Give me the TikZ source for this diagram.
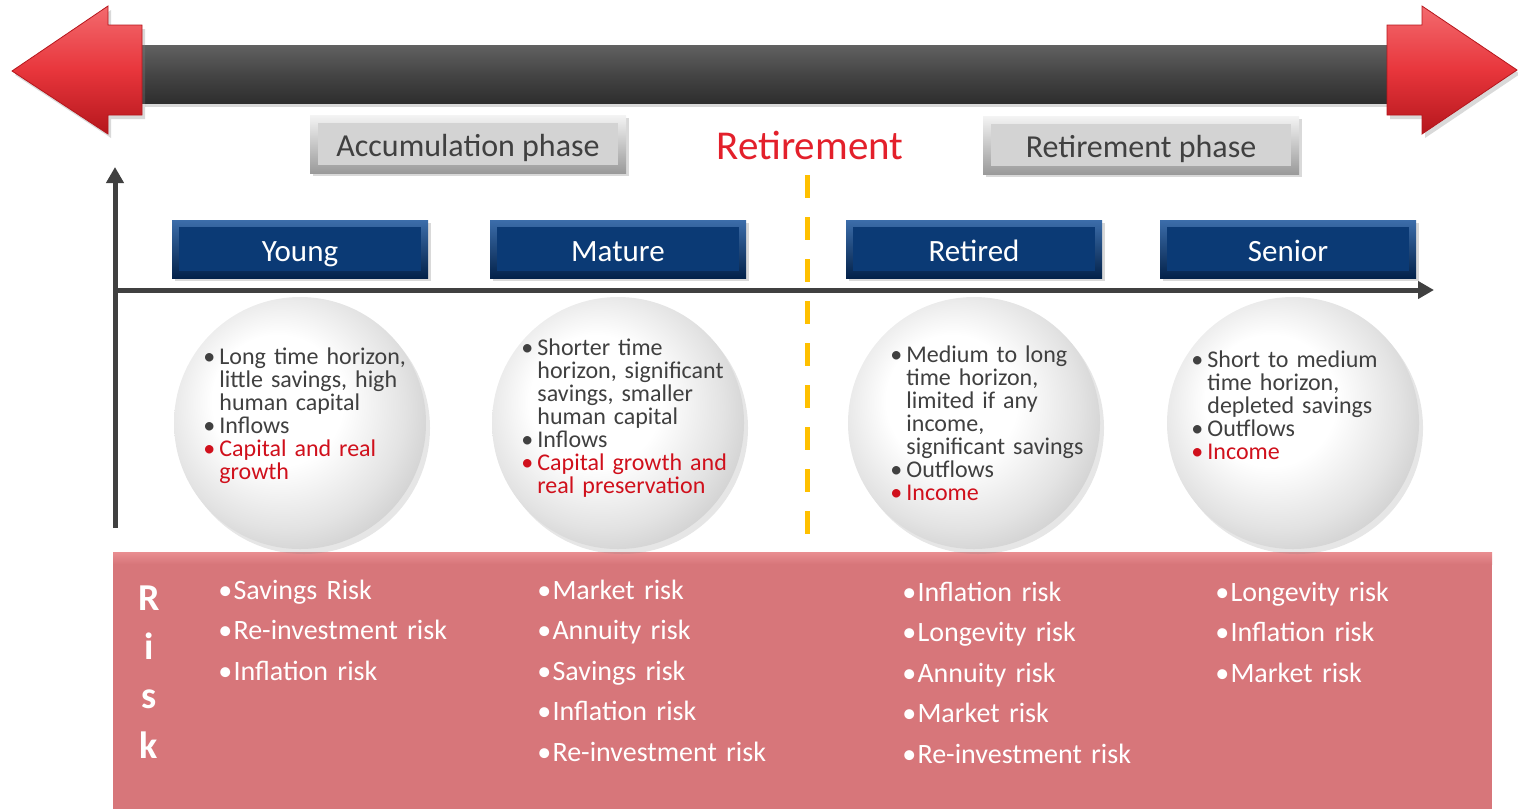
\documentclass[tikz,border=0pt]{standalone}
\usepackage{fontspec}
\setmainfont{Carlito}
\usepackage{tikz}
\usetikzlibrary{positioning,arrows.meta,shadows}

\definecolor{arrowred}{HTML}{E8363C}
\definecolor{arrowredhi}{HTML}{F36A6E}
\definecolor{arrowredlo}{HTML}{B5161C}
\definecolor{bardark}{HTML}{454545}
\definecolor{navy}{HTML}{0B3A75}
\definecolor{navyhi}{HTML}{3C6DAA}
\definecolor{navylo}{HTML}{03224A}
\definecolor{boxgray}{HTML}{D3D3D3}
\definecolor{boxgrayhi}{HTML}{F4F4F4}
\definecolor{boxgraylo}{HTML}{9A9A9A}
\definecolor{txtgray}{HTML}{404040}
\definecolor{retred}{HTML}{E3202B}
\definecolor{bulletred}{HTML}{D0101C}
\definecolor{dashyellow}{HTML}{FFC000}
\definecolor{riskpink}{HTML}{D7767A}
\definecolor{riskpinkhi}{HTML}{E98E91}
\definecolor{axisgray}{HTML}{404040}

\pgfdeclareradialshading{pearl}{\pgfpoint{-6bp}{6bp}}{%
  color(0bp)=(white); color(13bp)=(white); color(24bp)=(black!11);
  color(34bp)=(black!24); color(50bp)=(black!24)}

\newcommand{\ballfont}{\fontsize{12}{11.5}\selectfont\lineskiplimit=-\maxdimen}
\newcommand{\riskfont}{\fontsize{14}{20.25}\selectfont}
\newcommand{\blt}[1]{\noindent\llap{\textbullet\hspace{2pt}}#1\par}
\newcommand{\rblt}[1]{\noindent{\color{bulletred}\llap{\textbullet\hspace{2pt}}#1}\par}
\newcommand{\rskitem}{\textbullet\hspace{0.6pt}}

\begin{document}
\begin{tikzpicture}
    [x=0.5pt, y=-0.5pt, >={Triangle[length=8pt,width=8.5pt]},
     node distance=87pt, on grid,
     phasebox/.style={rectangle, minimum width=158pt, minimum height=29pt,
        text=txtgray, font=\fontsize{16}{19}\selectfont, text height=12.5pt, text depth=0pt,
        top color=boxgrayhi, bottom color=boxgraylo,
        drop shadow={opacity=0.3, shadow xshift=1.5pt, shadow yshift=-1.5pt},
        path picture={\fill[boxgray] ([shift={(4pt,4pt)}]path picture bounding box.south west)
            rectangle ([shift={(-4pt,-4pt)}]path picture bounding box.north east);}},
     agebox/.style={rectangle, minimum width=128pt, minimum height=29pt,
        text=white, font=\fontsize{15.5}{18}\selectfont, text height=12.4pt, text depth=0pt,
        top color=navyhi, bottom color=navylo,
        drop shadow={opacity=0.3, shadow xshift=1.5pt, shadow yshift=-1.5pt},
        path picture={\fill[navy] ([shift={(3.5pt,3.5pt)}]path picture bounding box.south west)
            rectangle ([shift={(-3.5pt,-3.5pt)}]path picture bounding box.north east);}},
     ball/.style={circle, minimum size=126pt, inner sep=0pt, shade, shading=pearl,
        drop shadow={opacity=0.2, shadow xshift=2pt, shadow yshift=-2.5pt}},
     balltext/.style={anchor=base west, text width=110pt, align=left, inner sep=0pt,
        text=txtgray, font=\ballfont},
     risklist/.style={anchor=base west, text width=130pt, align=left, inner sep=0pt,
        text=white, font=\riskfont},
     axis/.style={color=axisgray, line width=2.5pt},
     retline/.style={color=dashyellow, line width=2.5pt, dash pattern=on 11.5pt off 9.5pt}]

\useasboundingbox (0,0) rectangle (1518,809);

% risk band
\fill[riskpink] (113,552) rectangle (1492,809);
\shade[top color=riskpinkhi, bottom color=riskpink] (113,552) rectangle (1492,564);

% timeline arrow
\shade[top color=black!62, bottom color=black!82, middle color=bardark,
    drop shadow={opacity=0.3, shadow xshift=1.5pt, shadow yshift=-2pt}]
    (142,45) rectangle (1387,103);
\shade[top color=arrowredhi, bottom color=arrowredlo, middle color=arrowred,
    draw=arrowredlo, line width=0.4pt,
    drop shadow={opacity=0.3, shadow xshift=1.5pt, shadow yshift=-2pt}]
    (12,71) -- (108,6) -- (108,25) -- (142,25) -- (142,115) -- (108,115) -- (108,134) -- cycle;
\shade[top color=arrowredhi, bottom color=arrowredlo, middle color=arrowred,
    draw=arrowredlo, line width=0.4pt,
    drop shadow={opacity=0.3, shadow xshift=1.5pt, shadow yshift=-2pt}]
    (1517,70) -- (1422,6) -- (1422,25) -- (1387,25) -- (1387,115) -- (1422,115) -- (1422,134) -- cycle;

% phases
\node[phasebox](accum) at (468,144){Accumulation phase};
\node[phasebox](retphase) at (1141,145){Retirement phase};
\node[font=\fontsize{20.5}{24}\selectfont, text=retred](ret) at (810,145){Retirement};

% axes
\coordinate (orig) at (115,290);
\coordinate (ytip) at (115,167);
\coordinate (ybase) at (115,528);
\coordinate (xtip) at (1434,290);
\path[axis,->]
    (ybase) edge (ytip)
    (orig) edge (xtip);

\node[agebox](young) at (300,249){Young};
\node[agebox](mature) at (618,249){Mature};
\node[agebox](retired) at (974,249){Retired};
\node[agebox](senior) at (1288,249){Senior};

\node[ball](youngball)[below = of young]{};
\node[ball](matureball)[below = of mature]{};
\node[ball](retiredball)[below = of retired]{};
\node[ball](seniorball)[below = of senior, xshift=2.5pt]{};

% retirement line
\coordinate (dtop) at (807,175);
\coordinate (dbot) at (807,535);
\path[retline] (dtop) edge (dbot);

\node[balltext](youngtxt) at (219,364){%
    \blt{Long time horizon,\\little savings, high\\human capital}%
    \blt{Inflows}%
    \rblt{Capital and real\\growth}};
\node[balltext](maturetxt) at (537,355){%
    \blt{Shorter time\\horizon, significant\\savings, smaller\\human capital}%
    \blt{Inflows}%
    \rblt{Capital growth and\\real preservation}};
\node[balltext](retiredtxt) at (906,362){%
    \blt{Medium to long\\time horizon,\\limited if any\\income,\\significant savings}%
    \blt{Outflows}%
    \rblt{Income}};
\node[balltext](seniortxt) at (1207,367){%
    \blt{Short to medium\\time horizon,\\depleted savings}%
    \blt{Outflows}%
    \rblt{Income}};

% risks
\node[font=\fontsize{19}{24.7}\selectfont\bfseries, text=white, anchor=base,
    align=center, text width=20pt, inner sep=0pt](risklbl) at (149,610){R\\i\\s\\k};
\node[risklist](youngrisk) at (218,599){%
    \rskitem Savings Risk\\\rskitem Re-investment risk\\\rskitem Inflation risk};
\node[risklist](maturerisk) at (537,599){%
    \rskitem Market risk\\\rskitem Annuity risk\\\rskitem Savings risk\\%
    \rskitem Inflation risk\\\rskitem Re-investment risk};
\node[risklist](retiredrisk) at (902,601){%
    \rskitem Inflation risk\\\rskitem Longevity risk\\\rskitem Annuity risk\\%
    \rskitem Market risk\\\rskitem Re-investment risk};
\node[risklist](seniorrisk) at (1215,601){%
    \rskitem Longevity risk\\\rskitem Inflation risk\\\rskitem Market risk};
\end{tikzpicture}
\end{document}
